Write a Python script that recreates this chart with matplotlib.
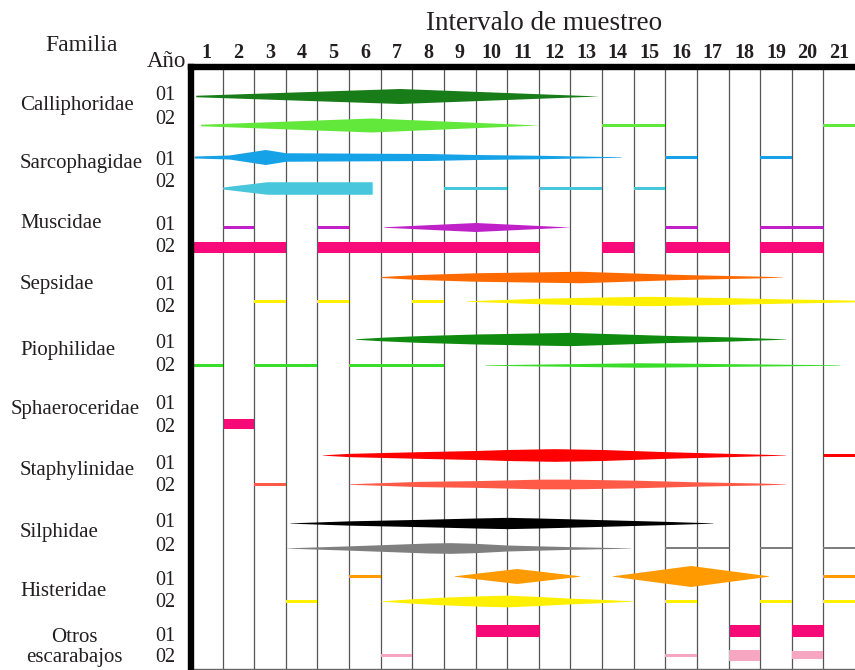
"""Abundance of carrion insect families per sampling interval (kite diagram)."""

import matplotlib

matplotlib.use("Agg")

import matplotlib.pyplot as plt

plt.rcParams["font.family"] = ["Liberation Serif", "DejaVu Serif"]

FAMILIES = ["Calliphoridae", "Sarcophagidae", "Muscidae", "Sepsidae", "Piophilidae",
            "Sphaeroceridae", "Staphylinidae", "Silphidae", "Histeridae", "Otros\nescarabajos"]
YEARS = ["01", "02"]
INTERVALS = list(range(1, 22))

# each mark: (interval positions, band thickness at those positions)
CALLIPHORIDAE_01 = [([0.15, 6.6, 12.9], [1.5, 15, 0])]
CALLIPHORIDAE_02 = [([0.3, 5.7, 11.0], [1.5, 14, 0]), ([13, 15], [3, 3]), ([20, 21], [3, 3])]
SARCOPHAGIDAE_01 = [([0.1, 1.2, 2.35, 3.0, 7.5, 9.0, 11.0, 13.6], [2, 4, 15, 8.5, 7, 5, 3.5, 0.5]),
                    ([15, 16], [3, 3]), ([18, 19], [3, 3])]
SARCOPHAGIDAE_02 = [([1.0, 2.4, 5.73], [2, 12.5, 12.5]),
                    ([8, 10], [3, 3]), ([11, 13], [3, 3]), ([14, 15], [3, 3])]
MUSCIDAE_01 = [([1, 2], [3, 3]), ([4, 5], [3, 3]), ([6.1, 9.0, 12.0], [0.5, 9, 0]),
               ([15, 16], [3, 3]), ([18, 20], [3, 3])]
MUSCIDAE_02 = [([0, 3], [11, 11]), ([4, 11], [11, 11]), ([13, 14], [11, 11]),
               ([15, 17], [11, 11]), ([18, 20], [11, 11])]
SEPSIDAE_01 = [([6.0, 7.2, 9.0, 11.0, 12.3, 15.0, 16.0, 18.0, 18.7],
                [1, 5, 8.5, 10.3, 11.5, 6, 4.3, 1.7, 0.3])]
SEPSIDAE_02 = [([2, 3], [3, 3]), ([4, 5], [3, 3]), ([7, 8], [3, 3]),
               ([8.7, 11, 13, 14.5, 17, 19, 21], [0.5, 5.5, 8, 9.3, 6.7, 4, 1.7])]
PIOPHILIDAE_01 = [([5.2, 6.0, 7.2, 9.0, 12.0, 15.0, 17.0, 18.8],
                   [0.5, 3.5, 6.7, 10, 13.3, 7.3, 4.3, 0.3])]
PIOPHILIDAE_02 = [([0, 1], [3, 3]), ([2, 4], [3, 3]), ([5, 8], [3, 3]),
                  ([9.3, 14.2, 20.5], [0.5, 4.5, 0.5])]
SPHAEROCERIDAE_01 = []
SPHAEROCERIDAE_02 = [([1, 2], [10.7, 10.7])]
STAPHYLINIDAE_01 = [([4.15, 5, 7.25, 9, 10, 11.5, 13, 15, 17, 18.8],
                     [0.3, 3.3, 6.7, 9, 11, 12.7, 11, 6.7, 3.3, 0.3]),
                    ([20, 21], [3, 3])]
STAPHYLINIDAE_02 = [([2, 3], [3, 3]),
                    ([5.0, 7.25, 9, 11, 12, 14, 16, 18, 18.8],
                     [0.5, 5.3, 6.7, 9.7, 9.7, 7.7, 4.3, 2, 0.3])]
SILPHIDAE_01 = [([3.13, 5, 7.25, 9, 10, 11, 13, 15, 16.5],
                 [0.3, 4.3, 7.3, 10, 11.3, 10, 6.7, 3.3, 0.3])]
SILPHIDAE_02 = [([3.03, 5, 7.5, 8.2, 9, 10, 11, 12, 13.9],
                 [0.3, 4.3, 10, 10.7, 9.3, 6, 4.3, 2.7, 0.3]),
                ([15, 17], [2.5, 2.5]), ([18, 19], [2.5, 2.5]), ([20, 21], [2.5, 2.5])]
HISTERIDAE_01 = [([5, 6], [3, 3]), ([8.33, 10.3, 12.28], [0.5, 15, 0.5]),
                 ([13.33, 15.8, 18.26], [0.5, 21, 0.5]), ([20, 21], [3, 3])]
HISTERIDAE_02 = [([3, 4], [3, 3]),
                 ([6, 7, 8, 9, 10, 11, 12, 13, 14], [0.3, 4.5, 7.7, 10, 11.7, 9, 5.7, 3.3, 0.3]),
                 ([15, 16], [3, 3]), ([18, 19], [3, 3]), ([20, 21], [3, 3])]
OTROS_01 = [([9, 11], [11.3, 11.3]), ([17, 18], [11.3, 11.3]), ([19, 20], [11.3, 11.3])]
OTROS_02 = [([6, 7], [3, 3]), ([15, 16], [3, 3]), ([17, 18], [11, 11]), ([19, 20], [7.7, 7.7])]

ROW_MARKS = [CALLIPHORIDAE_01, CALLIPHORIDAE_02, SARCOPHAGIDAE_01, SARCOPHAGIDAE_02,
             MUSCIDAE_01, MUSCIDAE_02, SEPSIDAE_01, SEPSIDAE_02, PIOPHILIDAE_01, PIOPHILIDAE_02,
             SPHAEROCERIDAE_01, SPHAEROCERIDAE_02, STAPHYLINIDAE_01, STAPHYLINIDAE_02,
             SILPHIDAE_01, SILPHIDAE_02, HISTERIDAE_01, HISTERIDAE_02, OTROS_01, OTROS_02]
ROW_COLORS = ["#187c18", "#62e83a", "#16a2e6", "#48c6dc", "#c020c8", "#f90a7b",
              "#ff6a00", "#fff000", "#0f8c0f", "#3ade2a", "#f50a78", "#f50a78",
              "#ff0000", "#ff5a48", "#000000", "#7f7f7f", "#ff9a00", "#fff000",
              "#f50a78", "#f7a6c2"]

# layout (pixels from top of the 855x670 canvas)
W, H = 855, 670
ROW_Y = [96, 125, 157, 188, 227, 247, 277, 301, 339, 365,
         403, 424, 455, 484, 523, 548, 576, 601, 631, 655]
YEAR_BASE = [100, 124, 165, 187, 230, 252, 290, 312, 348, 371,
             409, 432, 469, 491, 527, 551, 585, 607, 641, 662]
FAMILY_BASE = [110, 168, 228, 289, 355, 414, 475, 537, 596, 662]
FAMILY_X = [20, 20, 20, 20, 20, 11, 20, 20, 20, 74]
TEXT = "#231f20"


def fx(x):
    return x / W


def fy(y):
    return 1 - y / H


def main() -> None:
    fig = plt.figure(figsize=(W / 100, H / 100), dpi=100)
    ax = fig.add_axes([fx(191), fy(669), 664 / W, 602 / H])
    ax.set_xlim(0, len(INTERVALS))
    ax.set_ylim(669, 67)
    ax.set_xticks([])
    ax.set_yticks([])

    for i in range(1, len(INTERVALS)):
        ax.axvline(i, color="#555555", lw=0.9, zorder=1)

    for side in ("left", "top"):
        ax.spines[side].set_linewidth(4.6)
        ax.spines[side].set_color("black")
        ax.spines[side].set_capstyle("projecting")
        ax.spines[side].set_zorder(5)
    ax.spines["right"].set_visible(False)
    ax.spines["bottom"].set_linewidth(1.0)
    ax.spines["bottom"].set_color("#666666")

    for marks, color, y in zip(ROW_MARKS, ROW_COLORS, ROW_Y):
        for xs, ws in marks:
            lo = [y - w / 2 for w in ws]
            hi = [y + w / 2 for w in ws]
            ax.fill_between(xs, lo, hi, color=color, lw=0, zorder=3)

    for i, lab in enumerate(INTERVALS):
        ax.text(i + 0.5, 58, str(lab), ha="center", va="baseline", fontsize=14.5,
                fontweight="bold", color=TEXT, clip_on=False)

    fig.text(fx(544), fy(30), "Intervalo de muestreo", ha="center", va="baseline",
             fontsize=19.5, color=TEXT)
    fig.text(fx(45), fy(51), "Familia", ha="left", va="baseline", fontsize=17, color=TEXT)
    fig.text(fx(147), fy(67), "Año", ha="left", va="baseline", fontsize=16.5, color=TEXT)

    for name, x, base in zip(FAMILIES, FAMILY_X, FAMILY_BASE):
        if "\n" in name:
            fig.text(fx(x), fy(base), name, ha="center", va="baseline", fontsize=15,
                     color=TEXT, linespacing=1.05, multialignment="center")
        else:
            fig.text(fx(x), fy(base), name, ha="left", va="baseline", fontsize=15, color=TEXT)

    for k, base in enumerate(YEAR_BASE):
        fig.text(fx(155), fy(base), YEARS[k % 2], ha="left", va="baseline",
                 fontsize=14.5, color=TEXT)

    fig.savefig("out.png", dpi=100)
    plt.close(fig)


if __name__ == "__main__":
    main()
